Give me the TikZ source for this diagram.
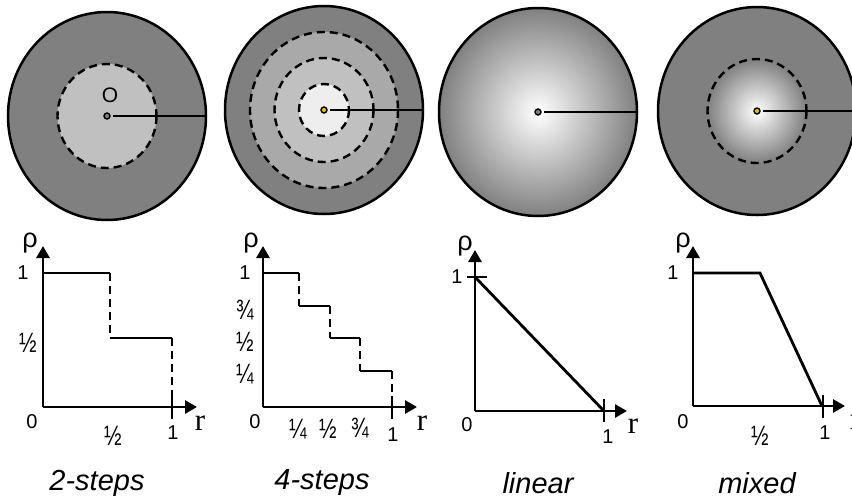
\documentclass[tikz,border=0pt]{standalone}
\usepackage{fontspec}
\setmainfont{Liberation Sans}
\newfontfamily\rfont{Liberation Serif}
\usetikzlibrary{arrows.meta}

\definecolor{shellgray}{RGB}{128,128,128}
\definecolor{midgray}{RGB}{169,169,169}
\definecolor{lightgray}{RGB}{192,192,192}
\definecolor{coregray}{RGB}{238,238,238}
\definecolor{dotyellow}{RGB}{240,190,0}

\newcommand{\frc}[1]{\scalebox{0.75}[1]{#1}}

\begin{document}
\begin{tikzpicture}[x=1pt, y=-1pt,
  shell/.style={line width=2.5pt, fill=shellgray},
  ring/.style={line width=2.4pt, dash pattern=on 8pt off 5pt},
  axisline/.style={line width=2.8pt, -{Triangle[length=12pt,width=13pt]}},
  profile/.style={line width=2.8pt},
  jump/.style={line width=2.8pt, dash pattern=on 8pt off 5pt},
  tickmark/.style={line width=2.4pt},
  lbl/.style={font=\fontsize{20}{20}\selectfont, inner sep=0pt},
  fraclbl/.style={font=\fontsize{28}{28}\selectfont, inner sep=0pt},
  rholbl/.style={font=\fontsize{27}{27}\selectfont, inner sep=0pt},
  rlbl/.style={font=\rfont\fontsize{31}{31}\selectfont, inner sep=0pt},
  caption/.style={font=\itshape\fontsize{29}{29}\selectfont, inner sep=0pt}]
  \useasboundingbox[fill=white] (0,0) rectangle (852,499);

  % 2-steps ball
  \draw[shell] (107,116) ellipse [x radius=99, y radius=104];
  \fill[lightgray] (107,116) ellipse [x radius=49.5, y radius=52];
  \draw[ring] (107,116) ellipse [x radius=49.5, y radius=52];
  \draw[line width=2.4pt] (113,116) -- (206,116);
  \filldraw[fill=shellgray, line width=1.4pt] (107,116) circle (3);
  \node[font=\fontsize{21}{21}\selectfont, inner sep=0pt] (o) at (110,95) {O};

  % 4-steps ball
  \draw[shell] (324,110) ellipse [x radius=99, y radius=104];
  \fill[midgray] (324,110) ellipse [x radius=74, y radius=78];
  \draw[ring] (324,110) ellipse [x radius=74, y radius=78];
  \fill[lightgray] (324,110) ellipse [x radius=49.5, y radius=52];
  \draw[ring] (324,110) ellipse [x radius=49.5, y radius=52];
  \fill[coregray] (324,110) ellipse [x radius=25, y radius=26];
  \draw[ring] (324,110) ellipse [x radius=25, y radius=26];
  \draw[line width=2.4pt] (330,110) -- (423,110);
  \filldraw[fill=dotyellow, line width=1.4pt] (324,110) circle (3);

  % linear ball
  \shade[inner color=white, outer color=shellgray] (538,112) ellipse [x radius=99, y radius=104];
  \draw[line width=2.5pt] (538,112) ellipse [x radius=99, y radius=104];
  \draw[line width=2.4pt] (544,112) -- (637,112);
  \filldraw[fill=shellgray, line width=1.4pt] (538,112) circle (3);

  % mixed ball
  \draw[shell] (757,111) ellipse [x radius=99, y radius=104];
  \shade[inner color=white, outer color=shellgray] (757,111) ellipse [x radius=49.5, y radius=52];
  \draw[ring] (757,111) ellipse [x radius=49.5, y radius=52];
  \draw[line width=2.4pt] (763,111) -- (856,111);
  \filldraw[fill=dotyellow, line width=1.4pt] (757,111) circle (3);

  % 2-steps profile
  \draw[axisline] (43,407) -- (43,246);
  \draw[axisline] (43,407) -- (197,407);
  \draw[profile] (43,273) -- (110,273);
  \draw[jump] (110,273) -- (110,338);
  \draw[profile] (110,338) -- (172,338);
  \draw[jump] (172,338) -- (172,407);
  \draw[tickmark] (172,396) -- (172,419);
  \node[rholbl] (rho1) at (30,243) {ρ};
  \node[lbl] (one1) at (23,273) {1};
  \node[fraclbl] (half1) at (28,343) {\frc{½}};
  \node[lbl] (zero1) at (32,422) {0};
  \node[fraclbl] (rhalf1) at (113,436) {\frc{½}};
  \node[lbl] (rone1) at (173,433) {1};
  \node[rlbl] (r1) at (200,423) {r};

  % 4-steps profile
  \draw[axisline] (263,407) -- (263,246);
  \draw[axisline] (263,407) -- (417,407);
  \draw[profile] (263,273) -- (299,273);
  \draw[jump] (299,273) -- (299,306);
  \draw[profile] (299,306) -- (330,306);
  \draw[jump] (330,306) -- (330,338);
  \draw[profile] (330,338) -- (360,338);
  \draw[jump] (360,338) -- (360,371);
  \draw[profile] (360,371) -- (392,371);
  \draw[jump] (392,371) -- (392,407);
  \draw[tickmark] (392,396) -- (392,419);
  \node[rholbl] (rho2) at (251,243) {ρ};
  \node[lbl] (one2) at (245,273) {1};
  \node[fraclbl] (tq2) at (245,310) {\frc{¾}};
  \node[fraclbl] (half2) at (245,342) {\frc{½}};
  \node[fraclbl] (q2) at (245,374) {\frc{¼}};
  \node[lbl] (zero2) at (255,422) {0};
  \node[fraclbl] (rq2) at (298,429) {\frc{¼}};
  \node[fraclbl] (rhalf2) at (328,429) {\frc{½}};
  \node[fraclbl] (rtq2) at (360,428) {\frc{¾}};
  \node[lbl] (rone2) at (393,435) {1};
  \node[rlbl] (r2) at (422,423) {r};

  % linear profile
  \draw[axisline] (475,411) -- (475,250);
  \draw[axisline] (475,411) -- (627,411);
  \draw[tickmark] (467,277) -- (487,277);
  \draw[profile] (475,277) -- (604,411);
  \draw[tickmark] (604,399) -- (604,422);
  \node[rholbl] (rho3) at (465,246) {ρ};
  \node[lbl] (one3) at (457,277) {1};
  \node[lbl] (zero3) at (467,425) {0};
  \node[lbl] (rone3) at (608,437) {1};
  \node[rlbl] (r3) at (633,426) {r};

  % mixed profile
  \draw[axisline] (693,406) -- (693,246);
  \draw[axisline] (693,406) -- (845,406);
  \draw[profile] (693,273) -- (760,273) -- (822,406);
  \draw[tickmark] (823,395) -- (823,418);
  \node[rholbl] (rho4) at (683,243) {ρ};
  \node[lbl] (one4) at (673,273) {1};
  \node[lbl] (zero4) at (683,422) {0};
  \node[fraclbl] (rhalf4) at (760,436) {\frc{½}};
  \node[lbl] (rone4) at (825,433) {1};
  \node[rlbl] (r4) at (855,422) {r};

  % captions
  \node[caption] (n1) at (97,483) {2-steps};
  \node[caption] (n2) at (322,483) {4-steps};
  \node[caption] (n3) at (538,483) {linear};
  \node[caption] (n4) at (757,483) {mixed};
\end{tikzpicture}
\end{document}
